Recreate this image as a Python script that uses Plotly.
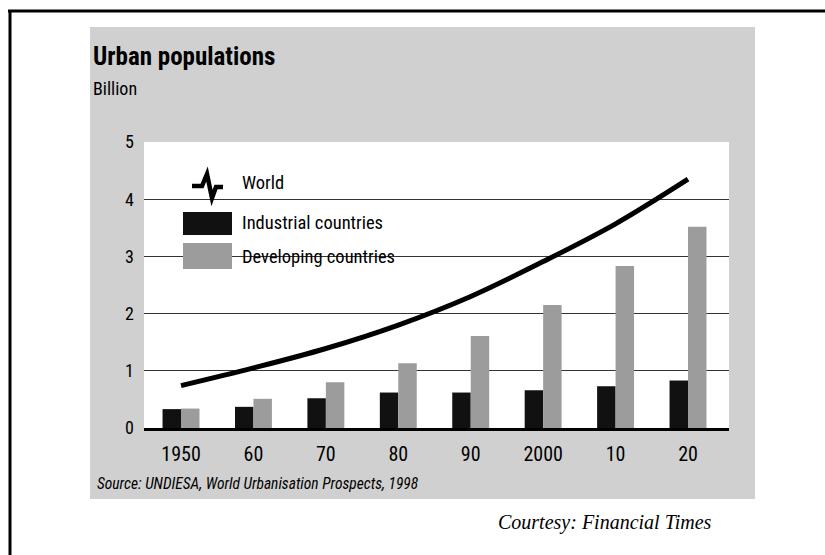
import plotly.graph_objects as go

# ---- data ----
years = ["1950", "60", "70", "80", "90", "2000", "10", "20"]
industrial = [0.33, 0.37, 0.52, 0.62, 0.62, 0.66, 0.73, 0.83]
developing = [0.34, 0.51, 0.80, 1.13, 1.61, 2.15, 2.83, 3.52]
world = [0.74, 1.05, 1.39, 1.80, 2.30, 2.91, 3.57, 4.35]
yticks = [0, 1, 2, 3, 4, 5]

COND = "Liberation Sans Narrow, Roboto Condensed, DejaVu Sans Condensed, Arial Narrow, sans-serif"

# plot-area pixel geometry
L, R, T, B = 144, 729, 142, 428
W, H = 825, 555


def px(x):
    return (x - L) / (R - L)


def py(y):
    return (B - y) / (B - T)


idx = list(range(len(years)))

fig = go.Figure()
fig.add_trace(go.Bar(x=idx, y=industrial, name="Industrial countries",
                     marker=dict(color="#111111", line=dict(width=0)),
                     offsetgroup="a"))
fig.add_trace(go.Bar(x=idx, y=developing, name="Developing countries",
                     marker=dict(color="#9c9c9c", line=dict(width=0)),
                     offsetgroup="b"))
fig.add_trace(go.Scatter(x=idx, y=world, name="World", mode="lines",
                         line=dict(color="#000000", width=5, shape="spline"),
                         cliponaxis=False))

shapes = []
# grey halftone panel
shapes.append(dict(type="rect", xref="paper", yref="paper", layer="below",
                   x0=px(90), x1=px(755), y0=py(499), y1=py(27),
                   fillcolor="#d0d0d0", line=dict(width=0)))
# white plot area
shapes.append(dict(type="rect", xref="paper", yref="paper", layer="below",
                   x0=0, x1=1, y0=0, y1=1,
                   fillcolor="#ffffff", line=dict(width=0)))
# legend white box (hides gridlines)
shapes.append(dict(type="rect", xref="paper", yref="paper", layer="between",
                   x0=px(159), x1=px(408), y0=py(285), y1=py(150),
                   fillcolor="#ffffff", line=dict(width=0)))
# legend swatches
shapes.append(dict(type="rect", xref="paper", yref="paper", layer="above",
                   x0=px(183), x1=px(232), y0=py(235), y1=py(212),
                   fillcolor="#111111", line=dict(width=0)))
shapes.append(dict(type="rect", xref="paper", yref="paper", layer="above",
                   x0=px(183), x1=px(232), y0=py(269), y1=py(243),
                   fillcolor="#9c9c9c", line=dict(width=0)))
# world squiggle icon
pts = [(192, 186), (202, 186), (207, 174), (212, 198), (216, 187), (223, 187)]
path = "M " + " L ".join(f"{px(a):.5f},{py(b):.5f}" for a, b in pts)
shapes.append(dict(type="path", xref="paper", yref="paper", layer="above",
                   path=path, line=dict(color="#000000", width=4.5)))
# outer frame (top and left)
shapes.append(dict(type="line", xref="paper", yref="paper", layer="above",
                   x0=px(8), x1=px(830), y0=py(11), y1=py(11),
                   line=dict(color="#000000", width=3)))
shapes.append(dict(type="line", xref="paper", yref="paper", layer="above",
                   x0=px(10), x1=px(10), y0=py(10), y1=py(560),
                   line=dict(color="#000000", width=3)))

ann = []


def text(x, y, s, size, bold=False, italic=False, family=COND, anchor="left"):
    if bold:
        s = f"<b>{s}</b>"
    if italic:
        s = f"<i>{s}</i>"
    ann.append(dict(xref="paper", yref="paper", x=px(x), y=py(y), text=s,
                    showarrow=False, xanchor=anchor, yanchor="middle",
                    font=dict(family=family, size=size, color="#000000")))


text(91, 56, "Urban populations", 25, bold=True)
text(91, 88, "Billion", 18)
text(240, 183, "World", 18.5)
text(240, 223, "Industrial countries", 18.5)
text(240, 257, "Developing countries", 18.5)
text(95, 484, "Source: UNDIESA, World Urbanisation Prospects, 1998", 15.5, italic=True)
text(496, 522, "Courtesy: Financial Times", 20, italic=True,
     family="Liberation Serif, Times New Roman, serif")

fig.update_layout(
    width=W, height=H,
    margin=dict(l=L, r=W - R, t=T, b=H - B, pad=0),
    paper_bgcolor="#ffffff", plot_bgcolor="#ffffff",
    barmode="group", bargap=0.49, bargroupgap=0,
    showlegend=False,
    shapes=shapes, annotations=ann,
    font=dict(family=COND, color="#000000"),
)
fig.update_xaxes(range=[-0.511, 7.566], tickvals=idx, ticktext=years,
                 showgrid=False, zeroline=False,
                 showline=True, linecolor="#000000", linewidth=2.5,
                 ticks="", tickfont=dict(size=20, family=COND),
                 ticklabelstandoff=6)
fig.update_yaxes(range=[0, 5], tickvals=yticks, showgrid=True,
                 gridcolor="#333333", gridwidth=1, zeroline=False,
                 showline=False, ticks="", tickfont=dict(size=18, family=COND),
                 ticklabelstandoff=9)

fig.write_html("out.html")
